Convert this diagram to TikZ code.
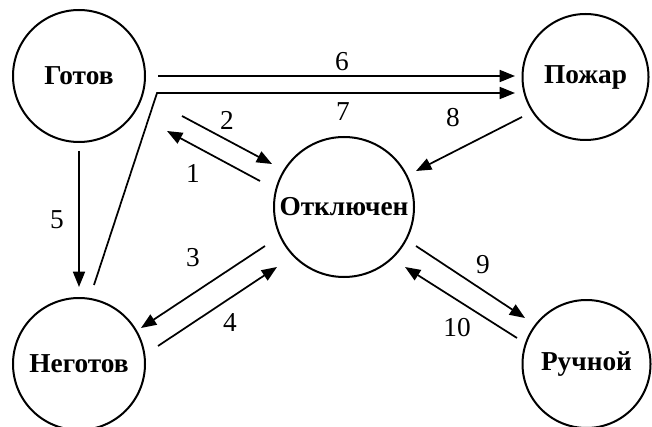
\documentclass[tikz,border=0pt]{standalone}
\usepackage{fontspec}
\setmainfont{Liberation Serif}
\usetikzlibrary{arrows.meta}
\begin{document}
\begin{tikzpicture}[x=0.75pt,y=-0.75pt,
  state/.style={circle,draw,line width=1.5pt,inner sep=0pt,font=\fontsize{20.5}{24}\selectfont\bfseries},
  conn/.style={line width=1.3pt,-{Triangle[length=11.5pt,width=9pt]}},
  lbl/.style={font=\fontsize{20.5}{24}\selectfont,inner sep=0pt}]
\useasboundingbox (0,0) rectangle (652,427);
\node[state,minimum size=99pt] (got) at (79,76) {Готов};
\node[state,minimum size=94.5pt] (pozh) at (585.5,77) {Пожар};
\node[state,minimum size=105pt] (otkl) at (344,207) {Отключен};
\node[state,minimum size=99pt] (negot) at (79,364) {Неготов};
\node[state,minimum size=96pt] (ruch) at (586.5,364) {Ручной};
% connector end points
\coordinate (a6s) at (158,76);  \coordinate (a6e) at (515,76);
\coordinate (a7s) at (94,285);  \coordinate (a7m) at (157,93); \coordinate (a7e) at (515,93);
\coordinate (a5s) at (79,151);  \coordinate (a5e) at (79,287);
\coordinate (a2s) at (182,116); \coordinate (a2e) at (272,164);
\coordinate (a1s) at (260,181); \coordinate (a1e) at (167,131);
\coordinate (a3s) at (265,246); \coordinate (a3e) at (141,328);
\coordinate (a4s) at (158,346); \coordinate (a4e) at (277,267);
\coordinate (a8s) at (522,117); \coordinate (a8e) at (416,171);
\coordinate (a9s) at (416,246); \coordinate (a9e) at (525,318);
\coordinate (a10s) at (517,338); \coordinate (a10e) at (405,267);
\draw[conn] (a6s) -- (a6e);
\draw[conn] (a7s) -- (a7m) -- (a7e);
\draw[conn] (a5s) -- (a5e);
\draw[conn] (a2s) -- (a2e);
\draw[conn] (a1s) -- (a1e);
\draw[conn] (a3s) -- (a3e);
\draw[conn] (a4s) -- (a4e);
\draw[conn] (a8s) -- (a8e);
\draw[conn] (a9s) -- (a9e);
\draw[conn] (a10s) -- (a10e);
% labels
\node[lbl] (l1) at (193,173) {1};
\node[lbl] (l2) at (227,120) {2};
\node[lbl] (l3) at (193,258) {3};
\node[lbl] (l4) at (230,323) {4};
\node[lbl] (l5) at (57,220) {5};
\node[lbl] (l6) at (342,62) {6};
\node[lbl] (l7) at (343,112) {7};
\node[lbl] (l8) at (453,118) {8};
\node[lbl] (l9) at (483,265) {9};
\node[lbl] (l10) at (457,328) {10};
\end{tikzpicture}
\end{document}
